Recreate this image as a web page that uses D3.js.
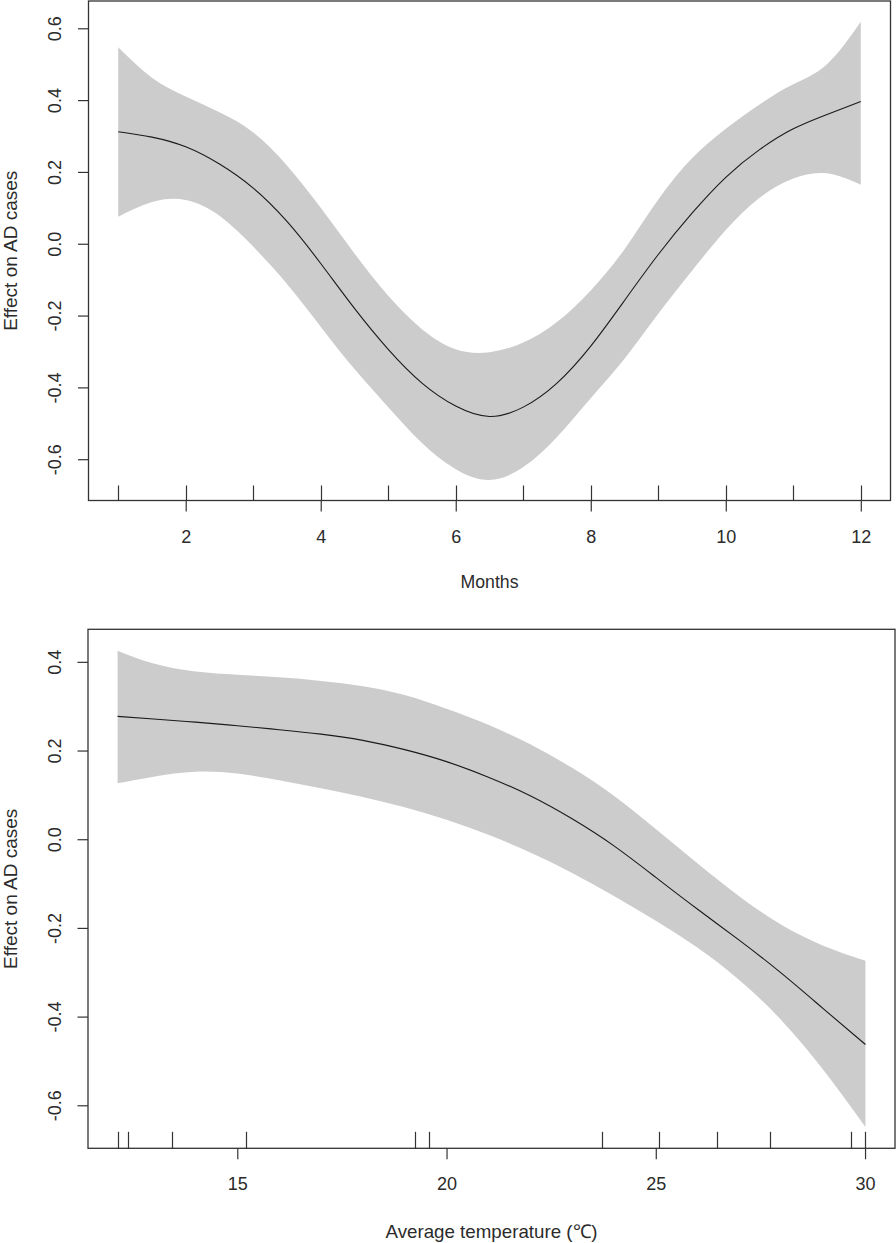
<!DOCTYPE html>
<html>
<head>
<meta charset="utf-8">
<script src="https://cdn.jsdelivr.net/npm/d3@7/dist/d3.min.js"></script>
<style>
  html, body { margin: 0; padding: 0; background: #fff; }
  svg { display: block; }
  text { font-family: "Liberation Sans", Arial, sans-serif; fill: #2b2b2b; }
</style>
</head>
<body>
<svg id="chart" width="896" height="1243"></svg>
<script>
// ---------- Panel 1: Months ----------
const months = [1, 1.5, 2, 2.5, 3, 3.5, 4, 4.5, 5, 5.5, 6, 6.5, 7, 7.5, 8, 8.5, 9, 9.5, 10, 10.5, 11, 11.5, 12];
const monthFit = [0.312, 0.297, 0.270, 0.222, 0.155, 0.062, -0.055, -0.180, -0.294, -0.388, -0.452, -0.481, -0.455, -0.388, -0.285, -0.158, -0.030, 0.085, 0.185, 0.262, 0.320, 0.360, 0.396];
const monthUpper = [0.547, 0.462, 0.410, 0.366, 0.310, 0.218, 0.100, -0.027, -0.145, -0.238, -0.294, -0.302, -0.275, -0.218, -0.130, -0.015, 0.123, 0.238, 0.320, 0.388, 0.444, 0.500, 0.618];
const monthLower = [0.075, 0.116, 0.122, 0.078, -0.008, -0.112, -0.231, -0.349, -0.455, -0.555, -0.628, -0.658, -0.622, -0.538, -0.430, -0.320, -0.195, -0.075, 0.038, 0.128, 0.182, 0.196, 0.164];
const monthRug = [1, 2, 3, 4, 5, 6, 7, 8, 9, 10, 11, 12];
const monthTicks = [2, 4, 6, 8, 10, 12];
const monthYTicks = [-0.6, -0.4, -0.2, 0.0, 0.2, 0.4, 0.6];

// ---------- Panel 2: Average temperature ----------
const temps = [12.14, 13, 14, 15, 16, 17, 18, 19, 20, 21, 22, 23, 24, 25, 26, 27, 28, 29, 30.01];
const tempFit = [0.277, 0.271, 0.264, 0.256, 0.247, 0.237, 0.223, 0.202, 0.175, 0.140, 0.098, 0.046, -0.015, -0.086, -0.158, -0.228, -0.302, -0.382, -0.463];
const tempUpper = [0.425, 0.396, 0.378, 0.371, 0.365, 0.357, 0.345, 0.325, 0.294, 0.258, 0.214, 0.161, 0.098, 0.023, -0.055, -0.129, -0.193, -0.240, -0.274];
const tempLower = [0.126, 0.141, 0.152, 0.148, 0.133, 0.115, 0.095, 0.072, 0.044, 0.010, -0.030, -0.076, -0.128, -0.184, -0.245, -0.318, -0.408, -0.520, -0.649];
const tempRug = [12.14, 12.38, 13.44, 15.20, 19.25, 19.59, 23.71, 25.07, 26.47, 27.73, 29.67, 30.01];
const tempTicks = [15, 20, 25, 30];
const tempYTicks = [-0.6, -0.4, -0.2, 0.0, 0.2, 0.4];

const yTitle = "Effect on AD cases";

const svg = d3.select("#chart");

function panel(cfg) {
  const x = d3.scaleLinear().domain(cfg.xDomain).range([cfg.left, cfg.right]);
  const y = d3.scaleLinear().domain(cfg.yDomain).range([cfg.bottom, cfg.top]);
  const g = svg.append("g");
  const data = cfg.xs.map((v, i) => ({x: v, f: cfg.fit[i], u: cfg.upper[i], l: cfg.lower[i]}));

  // confidence band
  g.append("path")
    .datum(data)
    .attr("fill", "#cccccc")
    .attr("stroke", "none")
    .attr("d", d3.area().curve(d3.curveNatural)
      .x(d => x(d.x)).y0(d => y(d.l)).y1(d => y(d.u)));

  // fitted line
  g.append("path")
    .datum(data)
    .attr("fill", "none")
    .attr("stroke", "#1a1a1a")
    .attr("stroke-width", 1.1)
    .attr("d", d3.line().curve(d3.curveNatural)
      .x(d => x(d.x)).y(d => y(d.f)));

  // rug
  g.append("g").selectAll("line")
    .data(cfg.rug)
    .join("line")
    .attr("x1", d => Math.round(x(d)) + 0.5).attr("x2", d => Math.round(x(d)) + 0.5)
    .attr("y1", cfg.bottom).attr("y2", cfg.bottom - cfg.rugLen)
    .attr("stroke", "#333").attr("stroke-width", 1.2);

  // x axis
  const xa = g.append("g")
    .attr("transform", `translate(0,${cfg.bottom})`)
    .call(d3.axisBottom(x).tickValues(cfg.xTicks).tickSize(11).tickFormat(d => String(d)));
  xa.select(".domain").remove();
  xa.selectAll(".tick line").attr("stroke", "#333").attr("stroke-width", 1.2);
  xa.selectAll("text")
    .attr("y", 42).attr("dy", 0)
    .style("font-size", "18px")
    .attr("fill", "#2b2b2b");

  // y axis
  const ya = g.append("g")
    .attr("transform", `translate(${cfg.left},0)`)
    .call(d3.axisLeft(y).tickValues(cfg.yTicks).tickSize(10.5).tickFormat(d => d.toFixed(1)));
  ya.select(".domain").remove();
  ya.selectAll(".tick line").attr("stroke", "#333").attr("stroke-width", 1.2);
  ya.selectAll("text")
    .attr("x", 0).attr("dy", 0)
    .attr("transform", "translate(-27.5,0) rotate(-90)")
    .attr("text-anchor", "middle")
    .style("font-size", "18px")
    .attr("fill", "#2b2b2b");

  // box
  g.append("rect")
    .attr("x", cfg.left).attr("y", cfg.top)
    .attr("width", cfg.right - cfg.left).attr("height", cfg.bottom - cfg.top)
    .attr("fill", "none").attr("stroke", "#333").attr("stroke-width", 1.3);

  // x title
  g.append("text")
    .attr("x", (cfg.left + cfg.right) / 2)
    .attr("y", cfg.bottom + cfg.xTitleOff)
    .attr("text-anchor", "middle")
    .attr("textLength", cfg.xTitleLen)
    .attr("lengthAdjust", "spacingAndGlyphs")
    .style("font-size", "19px")
    .text(cfg.xTitle);

  // y title
  g.append("text")
    .attr("transform", `translate(17,${(cfg.top + cfg.bottom) / 2}) rotate(-90)`)
    .attr("text-anchor", "middle")
    .style("font-size", "19px")
    .text(yTitle);
}

panel({
  xs: months, fit: monthFit, upper: monthUpper, lower: monthLower,
  rug: monthRug, xTicks: monthTicks, yTicks: monthYTicks,
  xDomain: [0.56, 12.44], yDomain: [-0.715, 0.676],
  left: 88.5, right: 890.5, top: 1, bottom: 500.5,
  rugLen: 15, xTitle: "Months", xTitleOff: 87.5, xTitleLen: 58
});

panel({
  xs: temps, fit: tempFit, upper: tempUpper, lower: tempLower,
  rug: tempRug, xTicks: tempTicks, yTicks: tempYTicks,
  xDomain: [11.433, 30.716], yDomain: [-0.697, 0.4734],
  left: 88, right: 895, top: 629.3, bottom: 1148.3,
  rugLen: 16.5, xTitle: "Average temperature (℃)", xTitleOff: 90, xTitleLen: 212
});
</script>
</body>
</html>
